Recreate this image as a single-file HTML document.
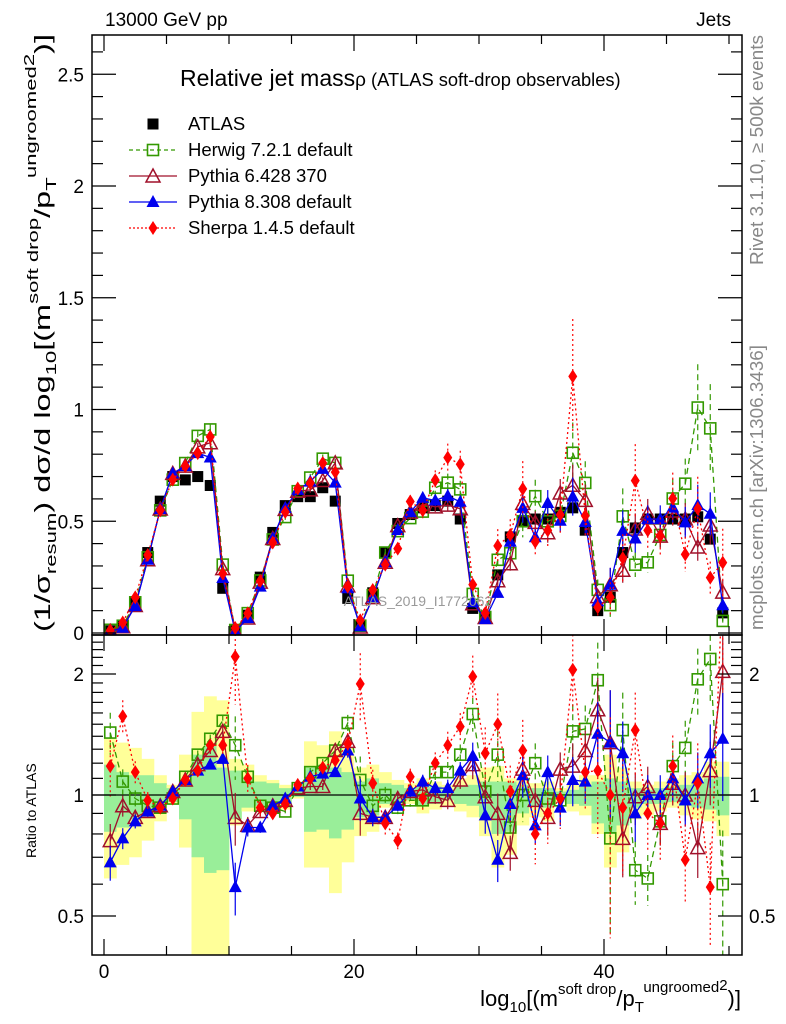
<!DOCTYPE html>
<html><head><meta charset="utf-8">
<style>
html,body{margin:0;padding:0;background:#fff;}
svg{display:block;font-family:"Liberation Sans",sans-serif;}
</style></head>
<body>
<svg id="c" width="786" height="1024" viewBox="0 0 786 1024" xmlns="http://www.w3.org/2000/svg">
<defs>
<clipPath id="clipMain"><rect x="92" y="35" width="650" height="600"/></clipPath>
<clipPath id="clipRatio"><rect x="92" y="635" width="650" height="320"/></clipPath>
</defs>
<rect x="0" y="0" width="786" height="1024" fill="#fff"/>
<g id="ratioBands" clip-path="url(#clipRatio)"></g>
<line x1="92" y1="795" x2="742" y2="795" stroke="#000" stroke-width="1.3"/>
<g id="mainMarks" clip-path="url(#clipMain)"></g>
<g id="ratioMarks" clip-path="url(#clipRatio)"></g>
<g id="axes"></g>
<text x="418" y="606" font-size="14" fill="#999" text-anchor="middle">ATLAS_2019_I1772062</text>
<text x="105" y="26" font-size="19">13000 GeV pp</text>
<text x="731" y="26" font-size="19" text-anchor="end">Jets</text>
<text x="180" y="86" font-size="23">Relative jet mass<tspan font-size="19">ρ</tspan><tspan font-size="18.3"> (ATLAS soft-drop observables)</tspan></text>
<text transform="translate(763,265) rotate(-90)" font-size="18" textLength="230" lengthAdjust="spacingAndGlyphs" fill="#888">Rivet 3.1.10, ≥ 500k events</text>
<text transform="translate(763,630) rotate(-90)" font-size="18" textLength="285" lengthAdjust="spacingAndGlyphs" fill="#888">mcplots.cern.ch [arXiv:1306.3436]</text>
<text transform="translate(50,632) rotate(-90)" font-size="22" textLength="598" lengthAdjust="spacingAndGlyphs">(1/σ<tspan font-size="15" dy="6">resum</tspan><tspan dy="-6">) dσ/d log</tspan><tspan font-size="15" dy="6">10</tspan><tspan dy="-6">[(m</tspan><tspan font-size="15" dy="-12">soft drop</tspan><tspan dy="12">/p</tspan><tspan font-size="15" dy="6">T</tspan><tspan font-size="15" dy="-20">ungroomed</tspan><tspan font-size="15" dy="-2">2</tspan><tspan dy="16">)]</tspan></text>
<text transform="translate(36,858) rotate(-90)" font-size="14">Ratio to ATLAS</text>
<text x="741" y="1006" font-size="22" text-anchor="end">log<tspan font-size="15" dy="6">10</tspan><tspan dy="-6">[(m</tspan><tspan font-size="15" dy="-12">soft drop</tspan><tspan dy="12">/p</tspan><tspan font-size="15" dy="6">T</tspan><tspan font-size="15" dy="-20">ungroomed</tspan><tspan font-size="15" dy="-2">2</tspan><tspan dy="16">)]</tspan></text>
<g id="legend"></g>
</svg>
<script>
const bins = [];
for (let i = 0; i < 50; i++) bins.push(i + 0.5);
const atlas = [0.01,0.03,0.14,0.36,0.59,0.70,0.685,0.70,0.66,0.20,0.01,0.08,0.25,0.45,0.57,0.61,0.61,0.65,0.59,0.155,0.03,0.18,0.36,0.49,0.53,0.56,0.57,0.59,0.51,0.11,0.07,0.26,0.43,0.50,0.51,0.51,0.54,0.56,0.46,0.10,0.16,0.36,0.47,0.51,0.51,0.51,0.51,0.52,0.42,0.09];
const herwigRatio = [1.43,1.08,0.98,0.94,0.93,0.98,1.11,1.26,1.38,1.53,1.33,1.11,0.94,0.93,0.91,1.04,1.14,1.20,1.29,1.51,1.09,0.94,1.0,0.93,0.97,0.97,1.14,1.14,1.26,1.59,1.02,1.26,0.83,1.0,1.20,0.98,0.97,1.44,1.46,1.93,0.78,1.45,0.65,0.62,0.86,1.18,1.31,1.94,2.18,0.60];
const pythia6Ratio = [0.77,0.94,0.88,0.91,0.94,1.02,1.09,1.19,1.29,1.44,0.88,0.84,0.91,0.94,0.97,1.04,1.05,1.05,1.29,1.36,0.90,0.88,0.88,0.98,1.02,1.03,0.99,0.97,1.09,1.19,0.99,0.90,0.72,1.16,0.97,0.88,1.16,1.18,1.29,1.63,1.35,0.78,0.99,1.05,0.85,1.07,1.0,0.74,1.15,2.03];
const pythia8Ratio = [0.68,0.78,0.86,0.91,0.94,1.02,1.09,1.15,1.19,1.23,0.59,0.83,0.83,0.94,0.98,1.05,1.11,1.13,1.14,1.29,0.98,0.88,0.88,0.94,1.02,1.08,1.04,1.04,1.15,1.25,0.89,0.69,0.95,1.12,0.84,1.14,0.93,1.09,1.08,1.42,1.35,1.27,0.90,1.0,1.0,1.10,0.97,1.1,1.27,1.38];
const sherpaRatio = [1.18,1.57,1.14,0.97,0.93,0.98,1.09,1.15,1.33,1.33,2.21,1.10,0.93,0.90,0.95,1.06,1.1,1.17,1.22,1.34,1.89,1.07,0.85,0.77,1.11,0.98,1.2,1.33,1.48,1.97,1.27,1.5,1.02,1.29,0.80,0.90,0.98,2.05,1.14,1.15,1.0,0.93,1.45,0.90,0.85,1.18,0.69,1.07,0.59,3.5];
const mcRelErr = [0.1,0.06,0.04,0.03,0.02,0.02,0.02,0.02,0.02,0.03,0.15,0.05,0.03,0.02,0.02,0.02,0.02,0.02,0.02,0.04,0.12,0.05,0.04,0.03,0.03,0.04,0.04,0.05,0.05,0.08,0.1,0.12,0.1,0.12,0.1,0.1,0.1,0.14,0.12,0.2,0.35,0.2,0.15,0.12,0.12,0.12,0.14,0.16,0.18,0.3];
const bandYellowHi = [1.38,1.35,1.31,1.23,1.12,1.06,1.26,1.61,1.76,1.72,1.23,1.19,1.12,1.09,1.06,1.03,1.36,1.33,1.44,1.31,1.17,1.19,1.14,1.09,1.07,1.10,1.08,1.06,1.10,1.12,1.17,1.18,1.10,1.10,1.07,1.08,1.04,1.06,1.12,1.12,1.26,1.17,1.08,1.06,1.08,1.10,1.12,1.14,1.21,1.21];
const bandYellowLo = [0.62,0.67,0.70,0.77,0.86,0.95,0.74,0.30,0.30,0.30,0.84,0.91,0.91,0.93,0.92,0.98,0.66,0.66,0.57,0.68,0.79,0.81,0.93,0.93,0.95,0.90,0.92,0.94,0.91,0.88,0.79,0.66,0.71,0.84,0.88,0.86,0.96,0.91,0.89,0.80,0.66,0.72,0.87,0.89,0.91,0.93,0.89,0.87,0.86,0.79];
const bandGreenHi = [1.19,1.14,1.12,1.12,1.07,1.04,1.08,1.26,1.33,1.17,1.15,1.11,1.08,1.07,1.04,1.02,1.17,1.19,1.17,1.14,1.08,1.10,1.07,1.06,1.04,1.06,1.05,1.03,1.05,1.06,1.08,1.08,1.08,1.06,1.04,1.04,1.02,1.03,1.06,1.08,1.10,1.08,1.04,1.03,1.04,1.05,1.06,1.07,1.10,1.11];
const bandGreenLo = [0.81,0.83,0.87,0.89,0.93,0.96,0.87,0.70,0.64,0.65,0.87,0.93,0.94,0.95,0.95,0.99,0.81,0.82,0.78,0.82,0.88,0.89,0.95,0.96,0.97,0.94,0.95,0.97,0.95,0.94,0.88,0.80,0.81,0.90,0.94,0.93,0.98,0.95,0.94,0.85,0.80,0.84,0.93,0.95,0.95,0.96,0.94,0.93,0.92,0.89];
const xTicks = [0,20,40];
const mainYTicks = [0,0.5,1,1.5,2,2.5];
const mainYLabels = ["0","0.5","1","1.5","2","2.5"];
const ratioYTicks = [0.5,1,2];
const ratioYLabels = ["0.5","1","2"];

const NS = "http://www.w3.org/2000/svg";
function X(v){ return 104 + 12.5*v; }
function MY(v){ return 633 - 223.5*v; }
function RY(r){ return 795 - 121*Math.log2(r); }
function mk(tag, attrs, parent){
  const e = document.createElementNS(NS, tag);
  for (const k in attrs) e.setAttribute(k, attrs[k]);
  parent.appendChild(e); return e;
}
const gBand = document.getElementById('ratioBands');
const gMain = document.getElementById('mainMarks');
const gRatio = document.getElementById('ratioMarks');
const gAx = document.getElementById('axes');
const gLeg = document.getElementById('legend');

for (let i = 0; i < bins.length; i++) {
  const x0 = X(bins[i]-0.5), x1 = X(bins[i]+0.5);
  const ry = mk('rect', {x:x0, y:RY(bandYellowHi[i]), width:x1-x0+0.3, height:RY(bandYellowLo[i])-RY(bandYellowHi[i]), fill:'#ffff99'}, gBand);
  
  
  const rg = mk('rect', {x:x0, y:RY(bandGreenHi[i]), width:x1-x0+0.3, height:RY(bandGreenLo[i])-RY(bandGreenHi[i]), fill:'#99ee99'}, gBand);
  
  
}

function marker(g, type, x, y, color){
  let e;
  if (type === 'sq') e = mk('rect', {x:x-5.5, y:y-5.5, width:11, height:11, fill:'#fff', 'fill-opacity':0, stroke:color, 'stroke-width':1.6}, g);
  else if (type === 'fsq') e = mk('rect', {x:x-5.5, y:y-5.5, width:11, height:11, fill:color}, g);
  else if (type === 'tri') e = mk('polygon', {points:`${x},${y-7} ${x-7},${y+6} ${x+7},${y+6}`, fill:'none', stroke:color, 'stroke-width':1.5}, g);
  else if (type === 'ftri') e = mk('polygon', {points:`${x},${y-7} ${x-6.5},${y+5} ${x+6.5},${y+5}`, fill:color}, g);
  else e = mk('polygon', {points:`${x},${y-7} ${x-4.5},${y} ${x},${y+7} ${x+4.5},${y}`, fill:color}, g);
  return e;
}

const series = [
  {name:'herwig', ratio:herwigRatio, color:'#339900', dash:'6,4', type:'sq', errMul:1.2},
  {name:'pythia6', ratio:pythia6Ratio, color:'#a0102a', dash:'', type:'tri', errMul:1.0},
  {name:'pythia8', ratio:pythia8Ratio, color:'#0000ee', dash:'', type:'ftri', errMul:1.0},
  {name:'sherpa', ratio:sherpaRatio, color:'#ff0000', dash:'2,3', type:'dia', errMul:1.6}
];

const gA = mk('g', {}, gMain);


bins.forEach((b, i) => {
  const m = marker(gA, 'fsq', X(b), MY(atlas[i]), '#000');
  
  
});

series.forEach(s => {
  const gm = mk('g', {}, gMain);
  
  
  const gr = mk('g', {}, gRatio);
  
  
  let pm = '', pr = '';
  bins.forEach((b, i) => {
    const v = atlas[i]*s.ratio[i];
    pm += (i ? 'L' : 'M') + X(b) + ',' + MY(v);
    pr += (i ? 'L' : 'M') + X(b) + ',' + RY(s.ratio[i]);
  });
  const lm = mk('path', {d:pm, fill:'none', stroke:s.color, 'stroke-width':1.3, 'stroke-dasharray':s.dash}, gm);
  
  
  const lr = mk('path', {d:pr, fill:'none', stroke:s.color, 'stroke-width':1.3, 'stroke-dasharray':s.dash}, gr);
  
  
  bins.forEach((b, i) => {
    const v = atlas[i]*s.ratio[i];
    const e = mcRelErr[i]*s.errMul;
    const x = X(b);
    const eb = mk('line', {x1:x, x2:x, y1:MY(v*(1+e)), y2:MY(Math.max(0,v*(1-e))), stroke:s.color, 'stroke-width':1.2, 'stroke-dasharray':s.dash}, gm);
    
    
    const ebr = mk('line', {x1:x, x2:x, y1:RY(s.ratio[i]*(1+e)), y2:RY(Math.max(0.05,s.ratio[i]*(1-e))), stroke:s.color, 'stroke-width':1.2, 'stroke-dasharray':s.dash}, gr);
    
    
    const m1 = marker(gm, s.type, x, MY(v), s.color);
    
    
    const m2 = marker(gr, s.type, x, RY(s.ratio[i]), s.color);
    
    
  });
});

const f1 = mk('rect', {x:92, y:35, width:650, height:600, fill:'none', stroke:'#000', 'stroke-width':1.5}, gAx);


const f2 = mk('rect', {x:92, y:635, width:650, height:320, fill:'none', stroke:'#000', 'stroke-width':1.5}, gAx);



for (let v = 0; v <= 50; v += 5) {
  const major = xTicks.includes(v);
  const L = major ? 16 : 9;
  [[35,1],[635,-1],[635,1],[955,-1]].forEach(([y0,d]) => {
    const t = mk('line', {x1:X(v), x2:X(v), y1:y0, y2:y0+d*L, stroke:'#000', 'stroke-width':1.2}, gAx);
    
    
  });
}
xTicks.forEach(v => {
  const t = mk('text', {x:X(v), y:978, 'font-size':19, 'text-anchor':'middle'}, gAx);
  t.textContent = String(v);
  
  
});
for (let k = 0; k <= 26; k++) {
  const v = k/10;
  const major = (k % 5 === 0);
  const L = major ? 24 : 11;
  const t1 = mk('line', {x1:92, x2:92+L, y1:MY(v), y2:MY(v), stroke:'#000', 'stroke-width':1.2}, gAx);
  
  
  const t2 = mk('line', {x1:742, x2:742-L, y1:MY(v), y2:MY(v), stroke:'#000', 'stroke-width':1.2}, gAx);
  
  
}
mainYTicks.forEach((v, i) => {
  const t = mk('text', {x:84, y:MY(v)+7, 'font-size':19, 'text-anchor':'end'}, gAx);
  t.textContent = mainYLabels[i];
  
  
});
const rMinor = [0.4,0.5,0.6,0.7,0.8,0.9,1,1.1,1.2,1.3,1.4,1.5,1.6,1.7,1.8,1.9,2,2.1,2.2,2.3,2.4];
rMinor.forEach(r => {
  const major = ratioYTicks.includes(r);
  const L = major ? 24 : 11;
  const y = RY(r);
  if (y < 636 || y > 954) return;
  const t1 = mk('line', {x1:92, x2:92+L, y1:y, y2:y, stroke:'#000', 'stroke-width':1.2}, gAx);
  
  
  const t2 = mk('line', {x1:742, x2:742-L, y1:y, y2:y, stroke:'#000', 'stroke-width':1.2}, gAx);
  
  
});
ratioYTicks.forEach((r, i) => {
  const t = mk('text', {x:84, y:RY(r)+7, 'font-size':19, 'text-anchor':'end'}, gAx);
  t.textContent = ratioYLabels[i];
  
  
  const t2 = mk('text', {x:749, y:RY(r)+7, 'font-size':19, 'text-anchor':'start'}, gAx);
  t2.textContent = ratioYLabels[i];
  
  
});

const legItems = [
  {label:'ATLAS', type:'fsq', color:'#000', dash:null},
  {label:'Herwig 7.2.1 default', type:'sq', color:'#339900', dash:'4,3'},
  {label:'Pythia 6.428 370', type:'tri', color:'#a0102a', dash:''},
  {label:'Pythia 8.308 default', type:'ftri', color:'#0000ee', dash:''},
  {label:'Sherpa 1.4.5 default', type:'dia', color:'#ff0000', dash:'2,2'}
];
legItems.forEach((it, i) => {
  const y = 124 + 26*i;
  const g = mk('g', {}, gLeg);
  
  
  if (it.dash !== null) mk('line', {x1:129, x2:177, y1:y, y2:y, stroke:it.color, 'stroke-width':1.3, 'stroke-dasharray':it.dash}, g);
  marker(g, it.type, 153, y, it.color);
  const t = mk('text', {x:188, y:y+6, 'font-size':18.5}, g);
  t.textContent = it.label;
});
</script>
</body></html>
